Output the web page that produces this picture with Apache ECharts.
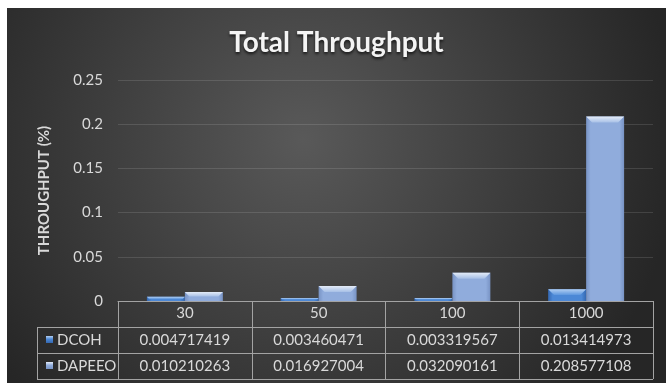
<!DOCTYPE html>
<html>
<head>
<meta charset="utf-8">
<script src="https://cdn.jsdelivr.net/npm/echarts@6/dist/echarts.min.js"></script>
<style>
  html, body { margin: 0; padding: 0; background: #ffffff; }
  #chart { position: absolute; left: 7px; top: 8px; width: 659px; height: 375px; }
</style>
</head>
<body>
<div id="chart"></div>
<script>
// Network sizes (x categories)
const categories = ['30', '50', '100', '1000'];
// Throughput per protocol
const seriesNames = ['DCOH', 'DAPEEO'];
const dcoh = [0.004717419, 0.003460471, 0.003319567, 0.013414973];
const dapeeo = [0.010210263, 0.016927004, 0.032090161, 0.208577108];
const yTicks = ['0', '0.05', '0.1', '0.15', '0.2', '0.25'];

const FONT = 'Lato, "Open Sans", sans-serif';
const TEXT = '#d9d9d9';
const LINE = '#a3a3a3';

// bevelled bar palettes: [edge, centre, bevel top, bevel bottom]
const palettes = [
  ['#3467b0', '#4c88d6', '#b3cff2', '#5c96de'],
  ['#7893c4', '#90acdc', '#e4ecf8', '#a6bfe6']
];

function bevelBar(idx) {
  return function (params, api) {
    const cat = api.value(0);
    const val = api.value(1);
    const base = api.coord([cat, 0]);
    const top = api.coord([cat, val]);
    const band = api.size([1, 0])[0];
    const bw = band * 0.284;
    const x = base[0] - bw + idx * bw;
    const y = top[1];
    const h = base[1] - top[1];
    const p = palettes[idx];
    const b = Math.min(6, h / 2, bw / 2);
    return {
      type: 'group',
      children: [
        {
          type: 'rect',
          shape: { x: x, y: y, width: bw, height: h },
          style: {
            fill: new echarts.graphic.LinearGradient(0, 0, 1, 0, [
              { offset: 0, color: p[0] },
              { offset: 0.12, color: p[1] },
              { offset: 0.88, color: p[1] },
              { offset: 1, color: p[0] }
            ])
          }
        },
        {
          type: 'polygon',
          shape: { points: [[x, y], [x + bw, y], [x + bw - b, y + b], [x + b, y + b]] },
          style: {
            fill: new echarts.graphic.LinearGradient(0, 0, 0, 1, [
              { offset: 0, color: p[2] },
              { offset: 1, color: p[3] }
            ])
          }
        }
      ]
    };
  };
}

const chart = echarts.init(document.getElementById('chart'), null, { renderer: 'canvas' });

const option = {
  backgroundColor: {
    type: 'radial', x: 0.45, y: 0.35, r: 1.0,
    colorStops: [
      { offset: 0, color: '#595959' },
      { offset: 1, color: '#262626' }
    ]
  },
  animation: false,
  title: {
    text: 'Total Throughput',
    left: 'center',
    top: 16,
    textStyle: {
      color: '#f4f4f4', fontFamily: FONT, fontWeight: 'bold', fontSize: 28,
      textShadowColor: 'rgba(0,0,0,0.7)', textShadowBlur: 3, textShadowOffsetY: 2
    }
  },
  grid: { left: 111, right: 13, top: 72, bottom: 82 },
  xAxis: {
    type: 'category',
    data: categories,
    axisLine: { lineStyle: { color: LINE, width: 1 } },
    axisTick: { show: true, length: 78, lineStyle: { color: LINE } },
    axisLabel: { color: TEXT, fontFamily: FONT, fontSize: 15, margin: 5, verticalAlign: 'top' },
    splitLine: { show: false }
  },
  yAxis: {
    type: 'value',
    min: 0, max: 0.25, interval: 0.05,
    name: 'THROUGHPUT (%)',
    nameLocation: 'middle',
    nameGap: 66,
    nameTextStyle: { color: TEXT, fontFamily: FONT, fontWeight: 'bold', fontSize: 15 },
    axisLine: { show: false },
    axisTick: { show: false },
    axisLabel: {
      color: TEXT, fontFamily: FONT, fontSize: 15, margin: 15,
      formatter: function (v) { return yTicks[Math.round(v / 0.05)]; }
    },
    splitLine: { lineStyle: { color: 'rgba(255,255,255,0.12)', width: 1 } }
  },
  series: [
    { name: seriesNames[0], type: 'custom', renderItem: bevelBar(0),
      data: dcoh.map((v, i) => [i, v]), encode: { x: 0, y: 1 } },
    { name: seriesNames[1], type: 'custom', renderItem: bevelBar(1),
      data: dapeeo.map((v, i) => [i, v]), encode: { x: 0, y: 1 } }
  ]
};
chart.setOption(option);

// Data table under the plot, aligned to the category axis
(function drawTable() {
  const rowH = 26;
  const axisY = chart.convertToPixel({ yAxisIndex: 0 }, 0);
  const left0 = chart.convertToPixel({ xAxisIndex: 0 }, 0);
  const left1 = chart.convertToPixel({ xAxisIndex: 0 }, 1);
  const band = left1 - left0;
  const plotLeft = left0 - band / 2;
  const plotRight = plotLeft + band * categories.length;
  const tableLeft = 30;
  const rows = [dcoh, dapeeo];
  const els = [];
  const lineStyle = { stroke: LINE, lineWidth: 1 };

  for (let r = 1; r <= 3; r++) {
    const y = Math.round(axisY + rowH * r) + 0.5;
    els.push({ type: 'line', shape: { x1: tableLeft, y1: y, x2: plotRight, y2: y }, style: lineStyle, silent: true });
  }
  els.push({ type: 'line',
    shape: { x1: tableLeft + 0.5, y1: Math.round(axisY + rowH) + 0.5, x2: tableLeft + 0.5, y2: Math.round(axisY + rowH * 3) + 0.5 },
    style: lineStyle, silent: true });

  rows.forEach(function (vals, r) {
    const cy = axisY + rowH * (r + 1.5);
    const p = palettes[r];
    els.push({ type: 'rect', shape: { x: tableLeft + 9, y: cy - 4, width: 7, height: 7 },
      style: { fill: new echarts.graphic.LinearGradient(0, 0, 0, 1, [
        { offset: 0, color: p[2] }, { offset: 0.45, color: p[1] }, { offset: 1, color: p[0] }]) },
      silent: true });
    els.push({ type: 'text', x: tableLeft + 20, y: cy,
      style: { text: seriesNames[r], fill: TEXT, font: '15px ' + FONT, textAlign: 'left', textVerticalAlign: 'middle' },
      silent: true });
    vals.forEach(function (v, c) {
      const cx = chart.convertToPixel({ xAxisIndex: 0 }, c);
      els.push({ type: 'text', x: cx, y: cy,
        style: { text: String(v), fill: TEXT, font: '15px ' + FONT, textAlign: 'center', textVerticalAlign: 'middle' },
        silent: true });
    });
  });
  chart.setOption({ graphic: { elements: els } });
})();
</script>
</body>
</html>
